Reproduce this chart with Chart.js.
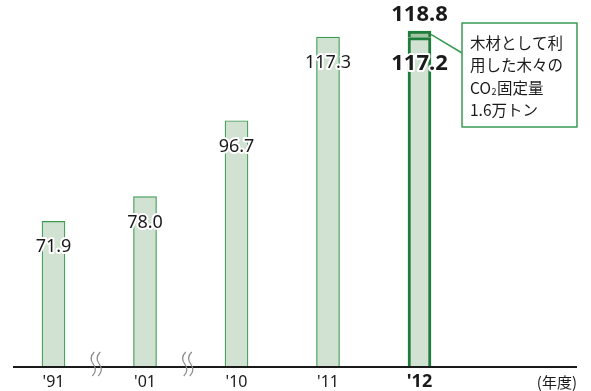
<!DOCTYPE html>
<html>
<head>
<meta charset="utf-8">
<script src="https://cdn.jsdelivr.net/npm/chart.js@4.4.0/dist/chart.umd.min.js"></script>
<style>
html,body{margin:0;padding:0;background:#fff;}
#wrap{width:591px;height:391px;position:relative;}
</style>
</head>
<body>
<div id="wrap"><canvas id="c" width="591" height="391"></canvas></div>
<script>
const categories = ["'91", "'01", "'10", "'11", "'12"];
const baseValues = [71.9, 78.0, 96.7, 117.3, 117.2];
const addedValues = [null, null, null, null, 1.6];
const totalValue = 118.8;
const unitLabel = '(年度)';
const noteLines = ['木材として利', '用した木々の', ['CO', '2', '固定量'], '1.6万トン'];
const yMin = 36, yMax = 124;

const GREEN = '#3a9a52';
const DARK_GREEN = '#1e7d3a';
const FILL = '#d2e2d2';
const TOP_FILL = '#a3c4a3';
const TEXT = '#1a1a1a';
const HL = categories.length - 1;

function haloText(ctx, txt, x, y) {
  ctx.lineJoin = 'round';
  ctx.strokeStyle = '#fff';
  ctx.lineWidth = 4;
  ctx.strokeText(txt, x, y);
  ctx.fillStyle = TEXT;
  ctx.fillText(txt, x, y);
}

const decor = {
  id: 'decor',
  afterDatasetsDraw(chart) {
    const ctx = chart.ctx;
    const xs = chart.scales.x, ys = chart.scales.y;
    const base = ys.getPixelForValue(yMin);
    ctx.save();
    // baseline
    ctx.strokeStyle = '#1a1a1a';
    ctx.lineWidth = 2;
    ctx.beginPath(); ctx.moveTo(13, base); ctx.lineTo(577, base); ctx.stroke();
    // break marks
    ctx.strokeStyle = '#8a8a8a';
    ctx.lineWidth = 1.2;
    [0, 1].forEach(i => {
      const cx = (xs.getPixelForValue(i) + xs.getPixelForValue(i + 1)) / 2 - 3;
      [-3, 3].forEach(dx => {
        const x0 = cx + dx;
        ctx.beginPath();
        ctx.moveTo(x0 + 1, base - 15);
        ctx.bezierCurveTo(x0 - 3, base - 11, x0 - 3, base - 7, x0, base - 3);
        ctx.bezierCurveTo(x0 + 3, base + 1, x0 + 3, base + 5, x0 - 1, base + 9);
        ctx.stroke();
      });
    });
    // tick labels
    ctx.textAlign = 'center';
    ctx.textBaseline = 'middle';
    categories.forEach((c, i) => {
      ctx.font = i === HL ? 'bold 18px "Noto Sans"' : '16px "Noto Sans"';
      ctx.fillStyle = TEXT;
      ctx.fillText(c, xs.getPixelForValue(i), base + 15);
    });
    ctx.font = '15px "Noto Sans CJK JP"';
    ctx.textAlign = 'right';
    ctx.fillText(unitLabel, 577, base + 15);
    // value labels
    const m0 = chart.getDatasetMeta(0);
    ctx.textAlign = 'center';
    baseValues.forEach((v, i) => {
      const el = m0.data[i];
      ctx.font = i === HL ? 'bold 22px "Noto Sans"' : '18px "Noto Sans"';
      haloText(ctx, v.toFixed(1), el.x, el.y + 26);
    });
    const m1 = chart.getDatasetMeta(1);
    const top = m1.data[HL];
    ctx.font = 'bold 22px "Noto Sans"';
    ctx.fillStyle = TEXT;
    ctx.fillText(totalValue.toFixed(1), top.x, top.y - 16);
    // annotation box
    const bx = 462, by = 23, bw = 115, bh = 104;
    ctx.strokeStyle = GREEN;
    ctx.lineWidth = 1.5;
    ctx.beginPath();
    ctx.moveTo(top.x + top.width / 2, (top.y + top.base) / 2);
    ctx.lineTo(bx, by + 30);
    ctx.stroke();
    ctx.fillStyle = '#fff';
    ctx.fillRect(bx, by, bw, bh);
    ctx.strokeRect(bx, by, bw, bh);
    ctx.fillStyle = TEXT;
    ctx.textAlign = 'left';
    ctx.textBaseline = 'middle';
    noteLines.forEach((ln, k) => {
      const y = by + 20 + k * 22.5;
      let x = bx + 8;
      if (Array.isArray(ln)) {
        ctx.font = '15.5px "Noto Sans CJK JP"';
        ctx.fillText(ln[0], x, y); x += ctx.measureText(ln[0]).width + 0.5;
        ctx.font = '9px "Noto Sans CJK JP"';
        ctx.fillText(ln[1], x, y + 4); x += ctx.measureText(ln[1]).width + 0.5;
        ctx.font = '15.5px "Noto Sans CJK JP"';
        ctx.fillText(ln[2], x, y);
      } else {
        ctx.font = '15.5px "Noto Sans CJK JP"';
        ctx.fillText(ln, x, y);
      }
    });
    ctx.restore();
  }
};

new Chart(document.getElementById('c'), {
  type: 'bar',
  data: {
    labels: categories,
    datasets: [
      {
        data: baseValues,
        backgroundColor: FILL,
        borderColor: categories.map((c, i) => i === HL ? DARK_GREEN : GREEN),
        borderWidth: categories.map((c, i) => i === HL ? 3 : 1.2),
        barThickness: 23
      },
      {
        data: addedValues,
        backgroundColor: TOP_FILL,
        borderColor: DARK_GREEN,
        borderWidth: 3,
        barThickness: 23
      }
    ]
  },
  options: {
    responsive: false,
    animation: false,
    events: [],
    layout: { padding: { left: 7.75, right: 125.75, top: 10, bottom: 24 } },
    plugins: { legend: { display: false }, tooltip: { enabled: false } },
    scales: {
      x: { stacked: true, display: false, offset: true },
      y: { stacked: true, display: false, min: yMin, max: yMax }
    }
  },
  plugins: [decor]
});
</script>
</body>
</html>
